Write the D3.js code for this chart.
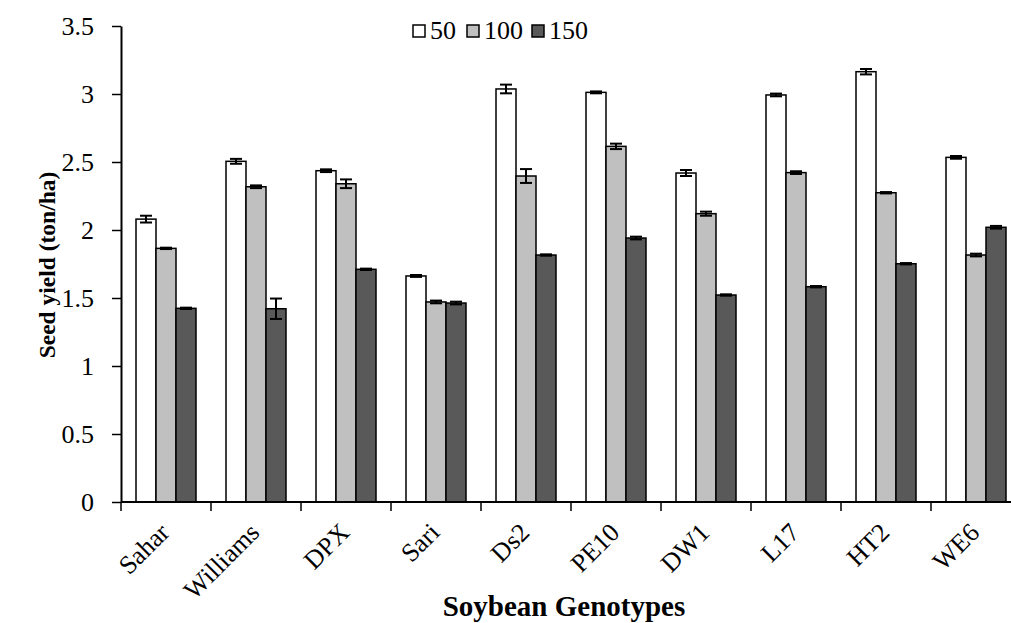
<!DOCTYPE html>
<html>
<head>
<meta charset="utf-8">
<script src="https://cdn.jsdelivr.net/npm/d3@7"></script>
<style>
  body { margin: 0; background: #fff; }
  text { font-family: 'Liberation Serif', 'Times New Roman', serif; }
</style>
</head>
<body>
<script>
const W = 1011, H = 623;
const FONT = "'Liberation Serif', 'Times New Roman', serif";

const genotypes = ["Sahar", "Williams", "DPX", "Sari", "Ds2", "PE10", "DW1", "L17", "HT2", "WE6"];
const series = ["50", "100", "150"];
const yield50  = [2.08, 2.505, 2.436, 1.662, 3.037, 3.012, 2.419, 2.993, 3.164, 2.534];
const yield100 = [1.865, 2.318, 2.34, 1.471, 2.397, 2.615, 2.12, 2.422, 2.274, 1.816];
const yield150 = [1.424, 1.421, 1.711, 1.463, 1.816, 1.941, 1.522, 1.583, 1.752, 2.02];
const err50  = [0.025, 0.018, 0.01, 0.007, 0.032, 0.007, 0.022, 0.01, 0.02, 0.01];
const err100 = [0.005, 0.01, 0.032, 0.01, 0.051, 0.02, 0.015, 0.01, 0.005, 0.01];
const err150 = [0.005, 0.075, 0.005, 0.01, 0.005, 0.01, 0.005, 0.005, 0.005, 0.01];
const yTicks = [0, 0.5, 1, 1.5, 2, 2.5, 3, 3.5];

const colors = ["#ffffff", "#c0c0c0", "#595959"];
const vals = [yield50, yield100, yield150];
const errs = [err50, err100, err150];

const svg = d3.select('body').append('svg').attr('width', W).attr('height', H)
  .style('display', 'block');

const x = d3.scaleBand().domain(genotypes).range([121, 1021]).paddingInner(1/3).paddingOuter(1/6);
const xs = d3.scaleBand().domain(series).range([0, x.bandwidth()]);
const y = d3.scaleLinear().domain([0, 3.5]).range([502, 26]);

// bars
series.forEach((s, si) => {
  const data = genotypes.map((g, i) => ({g, v: vals[si][i], e: errs[si][i]}));
  const grp = svg.append('g');
  grp.selectAll('rect').data(data).enter().append('rect')
    .attr('x', d => x(d.g) + xs(s))
    .attr('y', d => y(d.v))
    .attr('width', xs.bandwidth())
    .attr('height', d => y(0) - y(d.v))
    .attr('fill', colors[si])
    .attr('stroke', '#000')
    .attr('stroke-width', 1.5);

  // error bars
  const eb = grp.selectAll('g.err').data(data).enter().append('g')
    .attr('stroke', '#000').attr('stroke-width', 2);
  const cx = d => x(d.g) + xs(s) + xs.bandwidth() / 2;
  eb.append('line').attr('x1', cx).attr('x2', cx)
    .attr('y1', d => y(d.v + d.e)).attr('y2', d => y(d.v - d.e));
  eb.append('line').attr('x1', d => cx(d) - 6).attr('x2', d => cx(d) + 6)
    .attr('y1', d => y(d.v + d.e)).attr('y2', d => y(d.v + d.e));
  eb.append('line').attr('x1', d => cx(d) - 6).attr('x2', d => cx(d) + 6)
    .attr('y1', d => y(d.v - d.e)).attr('y2', d => y(d.v - d.e));
});

// y axis
const yAxis = svg.append('g').attr('transform', 'translate(121,0)')
  .call(d3.axisLeft(y).tickValues(yTicks).tickFormat(d => d).tickSize(9).tickSizeOuter(0));
yAxis.attr('font-family', FONT);
yAxis.select('.domain').attr('stroke', '#000').attr('stroke-width', 2);
yAxis.selectAll('.tick line').attr('stroke', '#000').attr('stroke-width', 1.5);
yAxis.selectAll('.tick text').attr('font-size', 26).attr('fill', '#000')
  .attr('font-family', FONT).attr('x', -27).attr('dy', '0.34em');

// x axis
const xAxis = svg.append('g').attr('transform', `translate(0,${y(0)})`);
xAxis.append('line').attr('x1', 121).attr('x2', W).attr('y1', 0).attr('y2', 0)
  .attr('stroke', '#000').attr('stroke-width', 2);
const half = x.step() / 2;
xAxis.selectAll('line.tk').data(genotypes).enter().append('line')
  .attr('x1', d => x(d) + x.bandwidth() / 2 - half)
  .attr('x2', d => x(d) + x.bandwidth() / 2 - half)
  .attr('y1', 0).attr('y2', 9)
  .attr('stroke', '#000').attr('stroke-width', 1.5);
xAxis.selectAll('text').data(genotypes).enter().append('text')
  .attr('transform', d => `translate(${x(d) + x.bandwidth() / 2 + 5},32) rotate(-45)`)
  .attr('text-anchor', 'end')
  .attr('font-family', FONT)
  .attr('font-size', 26)
  .text(d => d);

// axis titles
svg.append('text')
  .attr('transform', `translate(55,265) rotate(-90)`)
  .attr('text-anchor', 'middle')
  .attr('font-family', FONT)
  .attr('font-size', 23.5).attr('font-weight', 'bold')
  .text('Seed yield (ton/ha)');
svg.append('text')
  .attr('x', 564).attr('y', 616)
  .attr('text-anchor', 'middle')
  .attr('font-family', FONT)
  .attr('font-size', 29).attr('font-weight', 'bold')
  .text('Soybean Genotypes');

// legend
const legX = [413, 467, 532];
const leg = svg.selectAll('g.leg').data(series).enter().append('g')
  .attr('transform', (d, i) => `translate(${legX[i]},25)`);
leg.append('rect').attr('width', 12).attr('height', 12)
  .attr('fill', (d, i) => colors[i]).attr('stroke', '#000').attr('stroke-width', 1.5);
leg.append('text').attr('x', 17).attr('y', 14)
  .attr('font-family', FONT)
  .attr('font-size', 26).text(d => d);
</script>
</body>
</html>
